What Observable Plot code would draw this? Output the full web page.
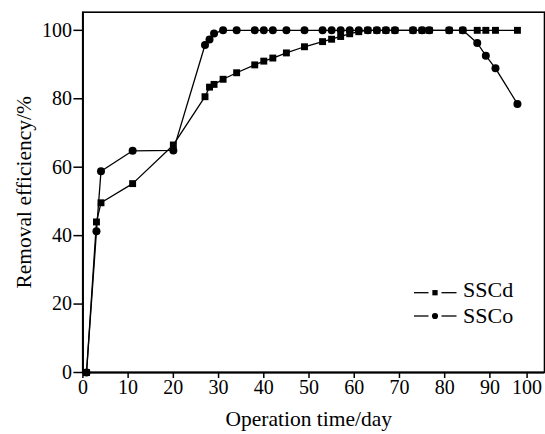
<!DOCTYPE html>
<html><head><meta charset="utf-8">
<script src="https://cdn.jsdelivr.net/npm/d3@7"></script>
<script src="https://cdn.jsdelivr.net/npm/@observablehq/plot@0.6"></script>
<style>
body{margin:0;background:#fff}
#wrap{position:relative;width:545px;height:434px;font-family:"Liberation Serif","Times New Roman",serif}
#legend{position:absolute;left:0;top:0}
</style>
</head><body><div id="wrap"></div>
<script>
const days = [0.8,3,4,11,20,27,28,29,31,34,38,40,42,45,49,53,55,57,59,61,63,65,67,69,73,75,76.6,81,84,87.2,89.1,91.5,97.4];
const sscd = [0,44.0,49.6,55.2,66.5,80.6,83.4,84.2,85.7,87.6,89.9,91.0,91.9,93.4,95.2,96.7,97.4,98.2,99.0,99.6,100,100,100,100,100,100,100,100,100,100,100,100,100];
const ssco = [0,41.3,58.8,64.8,64.9,95.7,97.3,99.1,100,100,100,100,100,100,100,100,100,100,100,100,100,100,100,100,100,100,100,100,100,96.3,92.6,88.9,78.5];
const seriesNames = ["SSCd","SSCo"];
const xTicks = [0,10,20,30,40,50,60,70,80,90,100];
const yTicks = [0,20,40,60,80,100];
const xLabel = "Operation time/day";
const yLabel = "Removal efficiency/%";

const rowsD = days.map((d,i)=>({day:d,value:sscd[i],series:seriesNames[0]}));
const rowsO = days.map((d,i)=>({day:d,value:ssco[i],series:seriesNames[1]}));

const W=545,H=434,ml=82.4,mr=1,mt=11.7,mb=62;
const font = '"Liberation Serif","Times New Roman",serif';
const chart = Plot.plot({
  width:W,height:H,marginLeft:ml,marginRight:mr,marginTop:mt,marginBottom:mb,
  style:{fontFamily:font,background:"white",color:"black",overflow:"visible"},
  x:{type:"linear",domain:[0,90,100,104.8],range:[ml,489.4,526.6,W-mr]},
  y:{domain:[0,105.3]},
  marks:[
    Plot.frame({stroke:"black",strokeWidth:1.6}),
    Plot.axisX({ticks:xTicks,tickSize:6,tickPadding:1,fontSize:20,fontFamily:font,label:null,tickFormat:d=>String(d),strokeWidth:1.5}),
    Plot.axisY({ticks:yTicks,tickSize:9,tickPadding:2,fontSize:20,fontFamily:font,label:null,tickFormat:d=>String(d),strokeWidth:1.5}),
    Plot.ruleY([0],{stroke:"black",strokeWidth:2}),
    Plot.ruleX([0],{stroke:"black",strokeWidth:2}),
    Plot.line(rowsO,{x:"day",y:"value",stroke:"black",strokeWidth:1.3}),
    Plot.dot(rowsO,{x:"day",y:"value",symbol:"circle",r:4,fill:"black",stroke:"none"}),
    Plot.line(rowsD,{x:"day",y:"value",stroke:"black",strokeWidth:1.3}),
    Plot.dot(rowsD,{x:"day",y:"value",symbol:"square",r:3.9,fill:"black",stroke:"none"}),
    Plot.text([xLabel],{frameAnchor:"bottom",textAnchor:"middle",lineAnchor:"middle",dy:47,dx:-5,fontSize:21.5,fontFamily:font,fill:"black"}),
    Plot.text([yLabel],{frameAnchor:"left",textAnchor:"middle",lineAnchor:"middle",dx:-59,rotate:-90,fontSize:21.5,fontFamily:font,fill:"black"})
  ]
});
const wrap = document.getElementById("wrap");
wrap.appendChild(chart);

// legend overlay
const lg = d3.select(wrap).append("svg").attr("id","legend").attr("width",W).attr("height",H)
  .style("pointer-events","none");
const items = [{name:seriesNames[0],sym:d3.symbolSquare,y:292.7},{name:seriesNames[1],sym:d3.symbolCircle,y:316}];
items.forEach(it=>{
  const g = lg.append("g");
  g.append("line").attr("x1",414).attr("x2",428.5).attr("y1",it.y).attr("y2",it.y).attr("stroke","black").attr("stroke-width",1.3);
  g.append("line").attr("x1",441.5).attr("x2",456.5).attr("y1",it.y).attr("y2",it.y).attr("stroke","black").attr("stroke-width",1.3);
  g.append("path").attr("d",d3.symbol(it.sym, it.sym===d3.symbolSquare?28:30)()).attr("transform",`translate(435,${it.y})`).attr("fill","black");
  g.append("text").attr("x",463).attr("y",it.y+4.7+ (it.sym===d3.symbolSquare?0:2.5)).attr("font-size",22).attr("font-family",font).attr("fill","black").text(it.name);
});
</script>
</body></html>
